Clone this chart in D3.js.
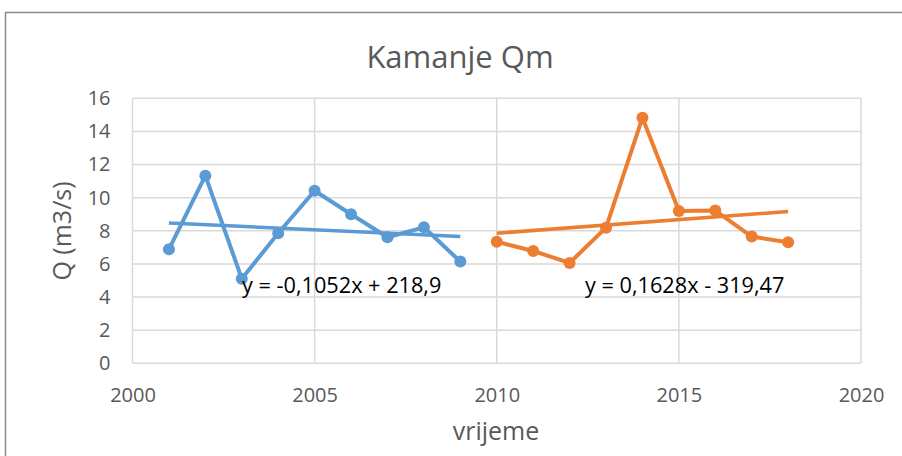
<!DOCTYPE html>
<html><head><meta charset="utf-8">
<script src="https://cdn.jsdelivr.net/npm/d3@7"></script>
<style>
html,body{margin:0;padding:0;background:#fff;}
svg{display:block;}
text{font-family:"Open Sans","Liberation Sans",sans-serif;}
</style></head>
<body>
<svg id="c" width="902" height="456"></svg>
<script>
const title = "Kamanje Qm";
const xTitle = "vrijeme";
const yTitle = "Q (m3/s)";
const yearsA = [2001,2002,2003,2004,2005,2006,2007,2008,2009];
const valuesA = [6.88,11.33,5.11,7.85,10.42,9.0,7.61,8.21,6.14];
const yearsB = [2010,2011,2012,2013,2014,2015,2016,2017,2018];
const valuesB = [7.34,6.78,6.06,8.19,14.83,9.2,9.22,7.65,7.31];
const eqA = "y = -0,1052x + 218,9";
const eqB = "y = 0,1628x - 319,47";
const xTicks = [2000,2005,2010,2015,2020];
const yTicks = [0,2,4,6,8,10,12,14,16];

const svg = d3.select("#c");
const x = d3.scaleLinear().domain([2000,2020]).range([132.5,861]);
const y = d3.scaleLinear().domain([0,16]).range([363.3,98.3]);

// outer frame
svg.append("rect").attr("x",5.5).attr("y",12.5).attr("width",920).attr("height",460)
  .attr("fill","#fff").attr("stroke","#8c8c8c").attr("stroke-width",1.5);

// grid
const g = svg.append("g");
g.selectAll(".hg").data(yTicks).join("line")
  .attr("x1",x(2000)).attr("x2",x(2020)).attr("y1",d=>y(d)).attr("y2",d=>y(d))
  .attr("stroke","#d9d9d9").attr("stroke-width",1.5);
g.selectAll(".vg").data(xTicks).join("line")
  .attr("y1",y(0)).attr("y2",y(16)).attr("x1",d=>x(d)).attr("x2",d=>x(d))
  .attr("stroke","#d9d9d9").attr("stroke-width",1.5);

// axes labels via d3 axes
const yAxis = svg.append("g").attr("transform",`translate(${x(2000)-22},0)`)
  .call(d3.axisLeft(y).tickValues(yTicks).tickSize(0).tickPadding(0));
yAxis.select(".domain").remove();
yAxis.selectAll("text").attr("fill","#595959").style("font-size","20px").style("font-family","'Open Sans'");

const xAxis = svg.append("g").attr("transform",`translate(0,${y(0)+24})`)
  .call(d3.axisBottom(x).tickValues(xTicks).tickFormat(d3.format("d")).tickSize(0).tickPadding(0));
xAxis.select(".domain").remove();
xAxis.selectAll("text").attr("fill","#595959").style("font-size","20px").style("font-family","'Open Sans'");

// titles
svg.append("text").attr("x",460).attr("y",68).attr("text-anchor","middle")
  .attr("fill","#595959").style("font-size","31px").text(title);
svg.append("text").attr("x",496).attr("y",440).attr("text-anchor","middle")
  .attr("fill","#595959").style("font-size","25px").text(xTitle);
svg.append("text").attr("transform","translate(71,231) rotate(-90)").attr("text-anchor","middle")
  .attr("fill","#595959").style("font-size","25px").text(yTitle);

function regression(xs, ys){
  const mx = d3.mean(xs), my = d3.mean(ys);
  let num=0, den=0;
  xs.forEach((v,i)=>{num+=(v-mx)*(ys[i]-my); den+=(v-mx)*(v-mx);});
  const b = num/den; return {b, a: my-b*mx};
}

function series(xs, ys, color, eq, lx){
  const data = xs.map((v,i)=>[v,ys[i]]);
  const line = d3.line().x(d=>x(d[0])).y(d=>y(d[1]));
  svg.append("path").datum(data).attr("d",line).attr("fill","none")
    .attr("stroke",color).attr("stroke-width",4).attr("stroke-linejoin","round");
  svg.selectAll(null).data(data).join("circle")
    .attr("cx",d=>x(d[0])).attr("cy",d=>y(d[1])).attr("r",6).attr("fill",color);
  const r = regression(xs, ys);
  const x0 = d3.min(xs), x1 = d3.max(xs);
  svg.append("line").attr("x1",x(x0)).attr("x2",x(x1))
    .attr("y1",y(r.a+r.b*x0)).attr("y2",y(r.a+r.b*x1))
    .attr("stroke",color).attr("stroke-width",3.5);
  svg.append("text").attr("x",lx).attr("y",293).attr("fill","#000")
    .style("font-size","21.7px").text(eq);
}
series(yearsA, valuesA, "#5B9BD5", eqA, 242);
series(yearsB, valuesB, "#ED7D31", eqB, 585);
</script>
</body></html>
